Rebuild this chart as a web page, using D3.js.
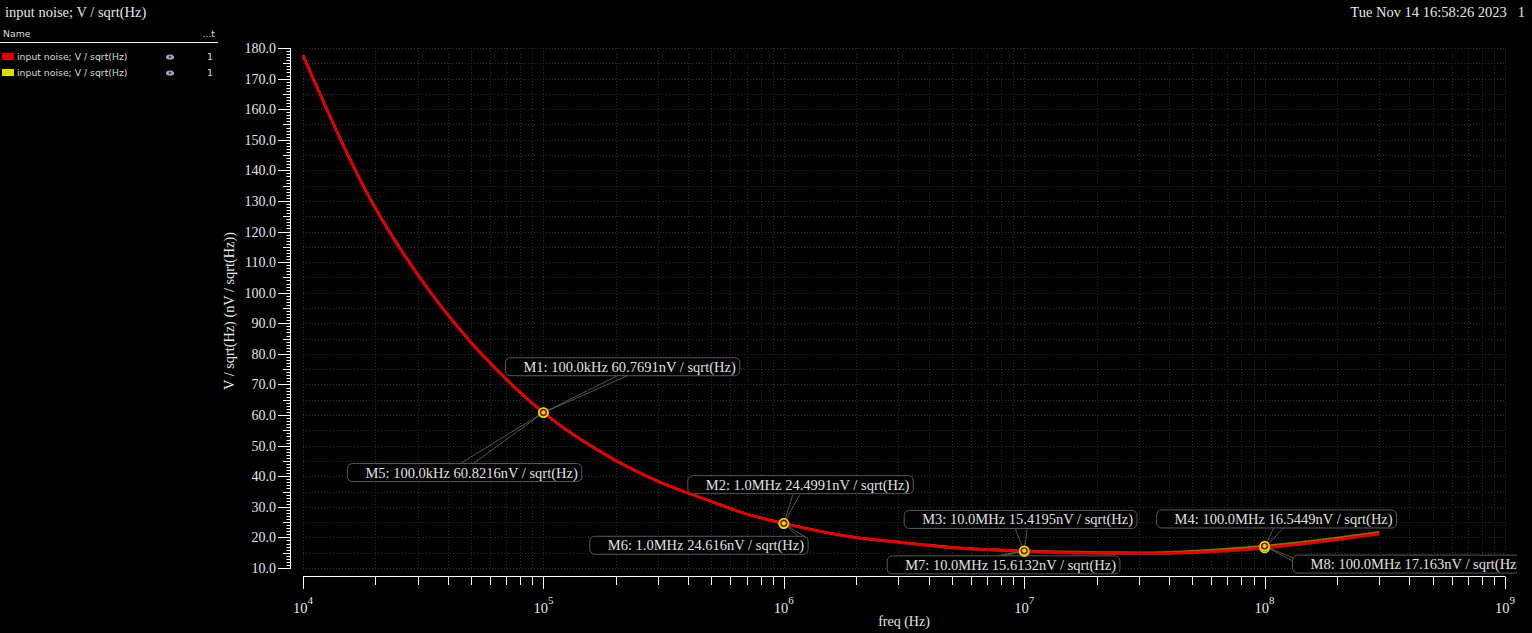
<!DOCTYPE html>
<html><head><meta charset="utf-8">
<script src="https://cdn.jsdelivr.net/npm/d3@7"></script>
<style>html,body{margin:0;padding:0;background:#000;overflow:hidden}</style>
</head><body>
<svg id="c" width="1532" height="633"></svg>
<script>
// ---- data ----
const freqs   = [1e4, 2e4, 3e4, 5e4, 7e4, 1e5, 2e5, 3e5, 5e5, 7e5, 1e6, 2e6, 3e6, 5e6, 1e7, 2e7, 3e7, 5e7, 1e8, 2e8, 3e8];
const redVals = [177.5,127.6,105.9,83.7,71.7,60.77,45.1,38.3,31.7,27.6,24.50,19.9,18.4,16.6,15.42,14.8,14.7,15.0,16.54,19.2,21.1];
const yelVals = [177.6,127.7,106.0,83.8,71.8,60.82,45.2,38.4,31.8,27.7,24.62,20.0,18.5,16.8,15.61,15.1,15.0,15.5,17.16,19.8,21.7];
const seriesNames = ["input noise; V / sqrt(Hz)", "input noise; V / sqrt(Hz)"];
const markerNames  = ["M1","M2","M3","M4","M5","M6","M7","M8"];
const markerFreqs  = [1e5, 1e6, 1e7, 1e8, 1e5, 1e6, 1e7, 1e8];
const markerFreqText = ["100.0kHz","1.0MHz","10.0MHz","100.0MHz","100.0kHz","1.0MHz","10.0MHz","100.0MHz"];
const markerValues = ["60.7691","24.4991","15.4195","16.5449","60.8216","24.616","15.6132","17.163"];
const markerSeries = [0,0,0,0,1,1,1,1];
const yTicks = [10,20,30,40,50,60,70,80,90,100,110,120,130,140,150,160,170,180];
const xDecades = [4,5,6,7,8,9];

// ---- layout (label box offsets relative to marker, and leader attach points) ----
const labelLayout = [
  {dx:-38, dy:-55, a:[[74,-37],[84,-37]]},
  {dx:-96, dy:-48, a:[[9,-29],[16,-29]]},
  {dx:-120,dy:-41, a:[[-9,-23],[3,-23]]},
  {dx:-108,dy:-38, a:[[9,-20],[19,-20]]},
  {dx:-196,dy:51,  a:[[-83,51],[-70,51]]},
  {dx:-194,dy:13,  a:[[14,13],[20,13]]},
  {dx:-137,dy:5,   a:[[-27,5],[-20,5]]},
  {dx:28,  dy:9,   a:[[29,12],[34,18]]}
];

const svg = d3.select("#c");
const W=1532, H=633;
svg.append("rect").attr("width",W).attr("height",H).attr("fill","#000");

const serif = "'Liberation Serif','Times New Roman',serif";
const sans = "'DejaVu Sans',sans-serif";
const colors = ["#e10000","#dcdc00"];

const x = d3.scaleLog().domain([1e4,1e9]).range([303,1505]);
const y = d3.scaleLinear().domain([10,180]).range([568,48]);

// title + date
svg.append("text").attr("x",5).attr("y",17).attr("fill","#e6e6e6")
  .style("font-family",serif).style("font-size","14.5px").text("input noise; V / sqrt(Hz)");
svg.append("text").attr("x",1525).attr("y",17).attr("fill","#e6e6e6").attr("text-anchor","end")
  .style("font-family",serif).style("font-size","14.5px").style("white-space","pre")
  .attr("xml:space","preserve").text("Tue Nov 14 16:58:26 2023   1");

// legend panel
const lg = svg.append("g");
const lfs = "9.3px";
lg.append("text").attr("x",3).attr("y",37).attr("fill","#ddd").style("font-family",sans).style("font-size",lfs).text("Name");
lg.append("text").attr("x",215).attr("y",37).attr("fill","#ddd").attr("text-anchor","end").style("font-family",sans).style("font-size",lfs).text("...t");
lg.append("line").attr("x1",0).attr("x2",218).attr("y1",42.5).attr("y2",42.5).attr("stroke","#eee").attr("stroke-width",1);
seriesNames.forEach((n,i)=>{
  const yy = 57 + i*16;
  lg.append("rect").attr("x",2).attr("y",yy-4).attr("width",12).attr("height",7).attr("fill",colors[i]);
  lg.append("text").attr("x",17).attr("y",yy+3).attr("fill","#ddd").style("font-family",sans).style("font-size",lfs).text(n);
  lg.append("ellipse").attr("cx",170).attr("cy",yy).attr("rx",4).attr("ry",2.6).attr("fill","#9ab0cc");
  lg.append("circle").attr("cx",170).attr("cy",yy).attr("r",1.3).attr("fill","#445");
  lg.append("text").attr("x",213).attr("y",yy+3).attr("fill","#ddd").attr("text-anchor","end").style("font-family",sans).style("font-size",lfs).text("1");
});

// grid
const grid = svg.append("g").attr("stroke","#2c2c2c").attr("stroke-width",1).attr("stroke-dasharray","1,2");
const gridY = d3.range(10,180.1,5);
grid.selectAll("line.h").data(gridY).enter().append("line")
  .attr("x1",303).attr("x2",1505).attr("y1",d=>Math.round(y(d))+0.5).attr("y2",d=>Math.round(y(d))+0.5);
const xMinor = [];
xDecades.forEach(e=>{ for(let k=1;k<=9;k++){ const v=k*Math.pow(10,e); if(v<=1e9) xMinor.push({v,k}); } });
grid.selectAll("line.v").data(xMinor).enter().append("line")
  .attr("x1",d=>Math.round(x(d.v))+0.5).attr("x2",d=>Math.round(x(d.v))+0.5).attr("y1",48).attr("y2",568);

// y axis
const ya = svg.append("g").attr("stroke","#fff").attr("stroke-width",1);
ya.append("line").attr("x1",290.5).attr("x2",290.5).attr("y1",48).attr("y2",569);
const yMinor = d3.range(10,180.01,1);
ya.selectAll("line.t").data(yMinor).enter().append("line")
  .attr("x1",d=> d%10===0 ? 278 : (d%5===0 ? 283 : 286.5)).attr("x2",290.5)
  .attr("y1",d=>Math.round(y(d))+0.5).attr("y2",d=>Math.round(y(d))+0.5);
svg.append("g").selectAll("text").data(yTicks).enter().append("text")
  .attr("x",276).attr("y",d=>y(d)+5).attr("text-anchor","end").attr("fill","#e6e6e6")
  .style("font-family",serif).style("font-size","14px").text(d=>d.toFixed(1));
svg.append("text").attr("transform","translate(234,311) rotate(-90)").attr("text-anchor","middle")
  .attr("fill","#e6e6e6").style("font-family",serif).style("font-size","14.3px").text("V / sqrt(Hz) (nV / sqrt(Hz))");

// x axis
const xa = svg.append("g").attr("stroke","#fff").attr("stroke-width",1);
xa.append("line").attr("x1",303).attr("x2",1505).attr("y1",576.5).attr("y2",576.5);
xa.selectAll("line.t").data(xMinor).enter().append("line")
  .attr("x1",d=>Math.round(x(d.v))+0.5).attr("x2",d=>Math.round(x(d.v))+0.5)
  .attr("y1",576.5).attr("y2",d=> d.k===1 ? 589 : 585);
const xl = svg.append("g").selectAll("text").data(xDecades).enter().append("text")
  .attr("x",d=>x(Math.pow(10,d))-10).attr("y",613).attr("fill","#e6e6e6")
  .style("font-family",serif).style("font-size","14.5px");
xl.append("tspan").text("10");
xl.append("tspan").attr("dy",-9).style("font-size","11px").text(d=>d);
svg.append("text").attr("x",904).attr("y",626).attr("text-anchor","middle").attr("fill","#e6e6e6")
  .style("font-family",serif).style("font-size","14px").text("freq (Hz)");

// curves
const line = d3.line().x(d=>x(d[0])).y(d=>y(d[1])).curve(d3.curveMonotoneX);
svg.append("path").datum(freqs.map((f,i)=>[f,yelVals[i]])).attr("d",line)
  .attr("fill","none").attr("stroke",colors[1]).attr("stroke-width",2.5).attr("opacity",0.55);
svg.append("path").datum(freqs.map((f,i)=>[f,redVals[i]])).attr("d",line)
  .attr("fill","none").attr("stroke",colors[0]).attr("stroke-width",3);

// markers + labels
svg.append("defs").append("clipPath").attr("id","clip").append("rect")
  .attr("x",0).attr("y",0).attr("width",1517).attr("height",633);
const mg = svg.append("g").attr("clip-path","url(#clip)");
const lead = mg.append("g");
const boxes = mg.append("g");
markerNames.forEach((m,i)=>{
  const mx = x(markerFreqs[i]), my = y(+markerValues[i]);
  const L = labelLayout[i];
  L.a.forEach(p=>{
    lead.append("line").attr("x1",mx).attr("y1",my).attr("x2",mx+p[0]).attr("y2",my+p[1])
      .attr("stroke","#6a6a6a").attr("stroke-width",0.8);
  });
  const g = boxes.append("g").attr("transform",`translate(${mx+L.dx},${my+L.dy})`);
  const r = g.append("rect").attr("rx",5).attr("ry",5).attr("height",18)
    .attr("fill","#000").attr("fill-opacity",0.85).attr("stroke","#585858").attr("stroke-width",1);
  const t = g.append("text").attr("x",18).attr("y",14).attr("fill","#e0e0e0")
    .style("font-family",serif).style("font-size","14.5px")
    .text(`${m}: ${markerFreqText[i]} ${markerValues[i]}nV / sqrt(Hz)`);
  const w = t.node().getComputedTextLength();
  r.attr("width", w+22);
});
const dots = svg.append("g");
markerNames.forEach((m,i)=>{
  const mx = x(markerFreqs[i]), my = y(+markerValues[i]);
  dots.append("circle").attr("cx",mx).attr("cy",my).attr("r",4.5).attr("fill","#8a1a00").attr("stroke","#e8e000").attr("stroke-width",1.6);
  dots.append("circle").attr("cx",mx).attr("cy",my).attr("r",2).attr("fill","#f0e000");
});
</script>
</body></html>
